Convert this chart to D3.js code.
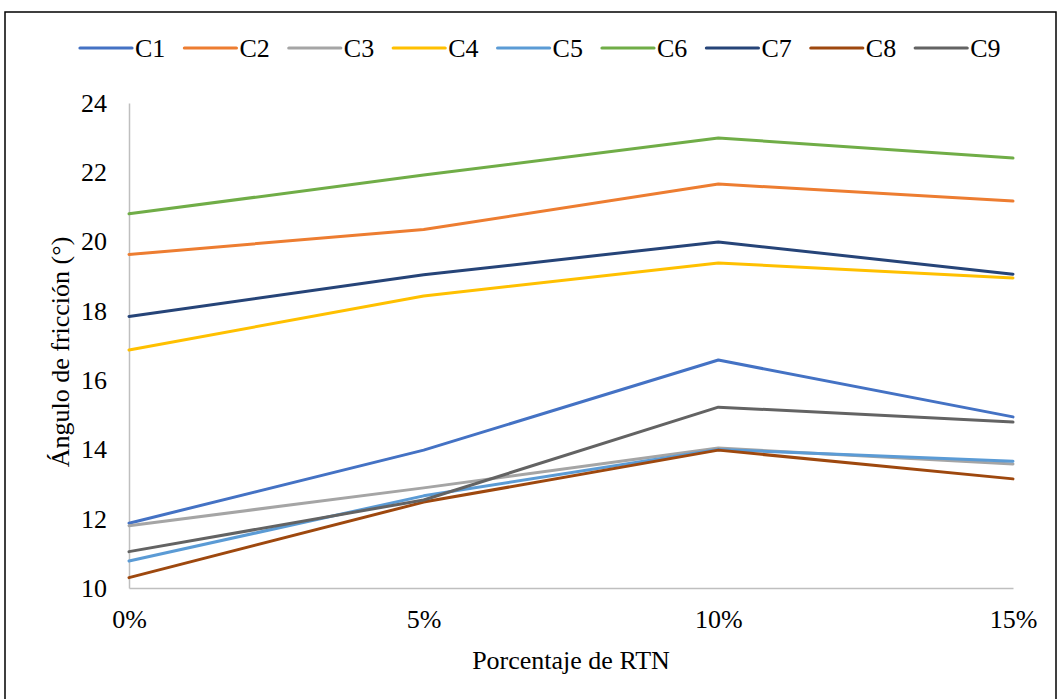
<!DOCTYPE html>
<html>
<head>
<meta charset="utf-8">
<script src="https://cdn.jsdelivr.net/npm/d3@7"></script>
<style>
  html, body { margin: 0; padding: 0; background: #fff; }
  svg { display: block; }
</style>
</head>
<body>
<svg id="chart" width="1060" height="699"></svg>
<script>
// Friction angle (°) per mix, by RTN percentage
const categories = ["0%", "5%", "10%", "15%"];
const seriesNames = ["C1", "C2", "C3", "C4", "C5", "C6", "C7", "C8", "C9"];
const C1 = [11.87, 13.98, 16.58, 14.94];
const C2 = [19.63, 20.35, 21.66, 21.17];
const C3 = [11.80, 12.89, 14.04, 13.58];
const C4 = [16.87, 18.43, 19.38, 18.95];
const C5 = [10.78, 12.66, 14.00, 13.66];
const C6 = [20.80, 21.92, 22.99, 22.41];
const C7 = [17.84, 19.04, 19.99, 19.06];
const C8 = [10.30, 12.48, 13.98, 13.15];
const C9 = [11.05, 12.54, 15.22, 14.79];
const yTicks = [10, 12, 14, 16, 18, 20, 22, 24];
const colors = ["#4472C4", "#ED7D31", "#A5A5A5", "#FFC000", "#5B9BD5",
                "#70AD47", "#264478", "#9E480E", "#636363"];

const FONT = '"Liberation Serif", "Times New Roman", serif';
const FONT_SIZE = "26px";

const seriesValues = [C1, C2, C3, C4, C5, C6, C7, C8, C9];
const series = seriesNames.map((name, i) => ({ name, values: seriesValues[i], color: colors[i] }));

const svg = d3.select("#chart");

// outer frame
svg.append("rect")
  .attr("x", 5).attr("y", 12).attr("width", 1051).attr("height", 700)
  .attr("fill", "none").attr("stroke", "#000").attr("stroke-width", 1.5);

const plot = { left: 129, right: 1013, top: 103, bottom: 588 };

const x = d3.scalePoint().domain(categories).range([plot.left, plot.right]);
const y = d3.scaleLinear().domain([10, 24]).range([plot.bottom, plot.top]);

function styleText(sel) {
  sel.style("font-family", FONT).style("font-size", FONT_SIZE).style("fill", "#000");
}

// axes
const yAxis = d3.axisLeft(y).tickValues(yTicks).tickSize(0).tickPadding(22);
const gy = svg.append("g").attr("transform", `translate(${plot.left},0)`).call(yAxis);
gy.select(".domain").attr("stroke", "#BFBFBF").attr("stroke-width", 1.5);
gy.selectAll("text").call(styleText);

const xAxis = d3.axisBottom(x).tickSize(0).tickPadding(22);
const gx = svg.append("g").attr("transform", `translate(0,${plot.bottom})`).call(xAxis);
gx.select(".domain").attr("stroke", "#BFBFBF").attr("stroke-width", 1.5);
gx.selectAll("text").call(styleText);

// axis titles
svg.append("text")
  .attr("x", (plot.left + plot.right) / 2).attr("y", 669)
  .attr("text-anchor", "middle")
  .text("Porcentaje de RTN")
  .call(styleText);

svg.append("text")
  .attr("transform", `translate(69,352) rotate(-90)`)
  .attr("text-anchor", "middle")
  .text("Ángulo de fricción (°)")
  .call(styleText);

// series lines
const line = d3.line()
  .x((d, i) => x(categories[i]))
  .y(d => y(d));

svg.append("g").selectAll("path")
  .data(series)
  .join("path")
  .attr("d", d => line(d.values))
  .attr("fill", "none")
  .attr("stroke", d => d.color)
  .attr("stroke-width", 3)
  .attr("stroke-linejoin", "round")
  .attr("stroke-linecap", "round");

// legend
const legend = svg.append("g").attr("transform", "translate(80,48)");
const item = legend.selectAll("g")
  .data(series)
  .join("g")
  .attr("transform", (d, i) => `translate(${i * 104.4},0)`);
item.append("line")
  .attr("x1", 0).attr("x2", 52).attr("y1", 0).attr("y2", 0)
  .attr("stroke", d => d.color).attr("stroke-width", 3.2)
  .attr("stroke-linecap", "round");
item.append("text")
  .attr("x", 55).attr("y", 9)
  .text(d => d.name)
  .call(styleText);
</script>
</body>
</html>
